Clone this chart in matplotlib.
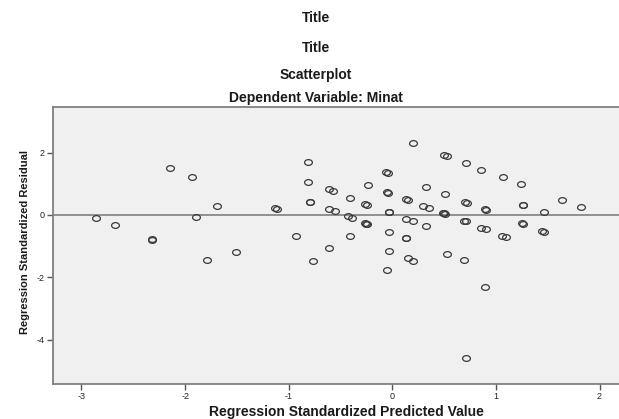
import matplotlib
matplotlib.use('Agg')
import matplotlib.pyplot as plt
from matplotlib.path import Path
from matplotlib.transforms import Affine2D

plt.rcParams['font.family'] = ['Liberation Sans', 'DejaVu Sans']
plt.rcParams['axes.unicode_minus'] = False

# Regression standardized predicted value / residual
predicted = [
    -2.86, -2.68, -2.32, -2.32, -2.15, -1.93, -1.89, -1.69, -1.79, -1.51,
    -1.13, -1.11, -0.93, -0.81, -0.81, -0.79, -0.79, -0.77, -0.61, -0.57,
    -0.61, -0.55, -0.61, -0.41, -0.43, -0.39, -0.41, -0.23, -0.26, -0.24,
    -0.26, -0.24, -0.25, -0.06, -0.04, -0.05, -0.04, -0.03, -0.03, -0.03,
    -0.03, -0.05, 0.20, 0.13, 0.15, 0.13, 0.20, 0.13, 0.13, 0.15,
    0.20, 0.50, 0.53, 0.71, 0.86, 1.07, 1.24, 0.33, 0.51, 0.30,
    0.35, 0.70, 0.72, 0.89, 0.90, 1.26, 1.26, 1.64, 1.82, 1.46,
    0.49, 0.51, 0.50, 0.33, 0.69, 0.71, 0.86, 0.90, 1.06, 1.10,
    1.25, 1.26, 1.44, 1.46, 0.53, 0.69, 0.89, 0.71,
]
residual = [
    -0.11, -0.33, -0.78, -0.79, 1.50, 1.22, -0.07, 0.30, -1.46, -1.18,
    0.21, 0.19, -0.66, 1.69, 1.07, 0.42, 0.41, -1.48, 0.82, 0.77,
    0.19, 0.12, -1.06, 0.55, -0.03, -0.09, -0.68, 0.96, 0.36, 0.33,
    -0.27, -0.29, -0.28, 1.37, 1.35, 0.74, 0.71, 0.10, 0.09, -0.54,
    -1.16, -1.76, 2.29, 0.51, 0.48, -0.12, -0.20, -0.74, -0.75, -1.39,
    -1.47, 1.91, 1.89, 1.66, 1.45, 1.21, 0.98, 0.89, 0.66, 0.29,
    0.23, 0.42, 0.39, 0.18, 0.16, 0.33, 0.32, 0.48, 0.26, 0.08,
    0.06, 0.04, 0.05, -0.36, -0.19, -0.21, -0.42, -0.46, -0.66, -0.71,
    -0.27, -0.29, -0.52, -0.55, -1.24, -1.44, -2.31, -4.59,
]
x_ticks = [-3, -2, -1, 0, 1, 2]
y_ticks = [-4, -2, 0, 2]

W, H = 619, 419
fig = plt.figure(figsize=(W / 100, H / 100), dpi=100)
ax = fig.add_axes([53 / W, (H - 384) / H, (W - 53) / W, (384 - 107) / H])
ax.set_facecolor('#F0F0F0')

# slightly flattened open circle, as SPSS draws it
ellipse = Path.unit_circle().transformed(Affine2D().scale(1.35, 1.0))

ax.axhline(0, color='#808080', linewidth=1.2, zorder=1)
ax.plot(predicted, residual, linestyle='none', marker=ellipse, markersize=5.6,
        markerfacecolor='none', markeredgecolor='#3a3a3a', markeredgewidth=0.9,
        zorder=2)

ax.set_xlim(-3.275, 2.188)
ax.set_ylim(-5.42, 3.46)
ax.set_xticks(x_ticks)
ax.set_yticks(y_ticks)
ax.tick_params(direction='out', length=4, width=1, color='#555555',
               labelsize=6.5, pad=2, labelcolor='#222222')

for side in ['left', 'bottom', 'top']:
    ax.spines[side].set_color('#808080')
    ax.spines[side].set_linewidth(1.3)
ax.spines['right'].set_visible(False)

ax.set_xlabel('Regression Standardized Predicted Value', fontsize=10,
              weight='bold', color='#1a1a1a', va='center')
ax.xaxis.set_label_coords((346 - 53) / 566, (384 - 412) / 277)
ax.set_ylabel('Regression Standardized Residual', fontsize=8,
              weight='bold', color='#1a1a1a', va='center')
ax.yaxis.set_label_coords((25 - 53) / 566, (384 - 242) / 277)

cx = 316 / W
for text, ypx in [('Title', 18), ('Title', 48), ('Scatterplot', 75),
                  ('Dependent Variable: Minat', 98)]:
    fig.text(cx, 1 - ypx / H, text, ha='center', va='center', fontsize=10,
             weight='bold', color='#1a1a1a')

plt.savefig('out.png', dpi=100)
plt.close()
